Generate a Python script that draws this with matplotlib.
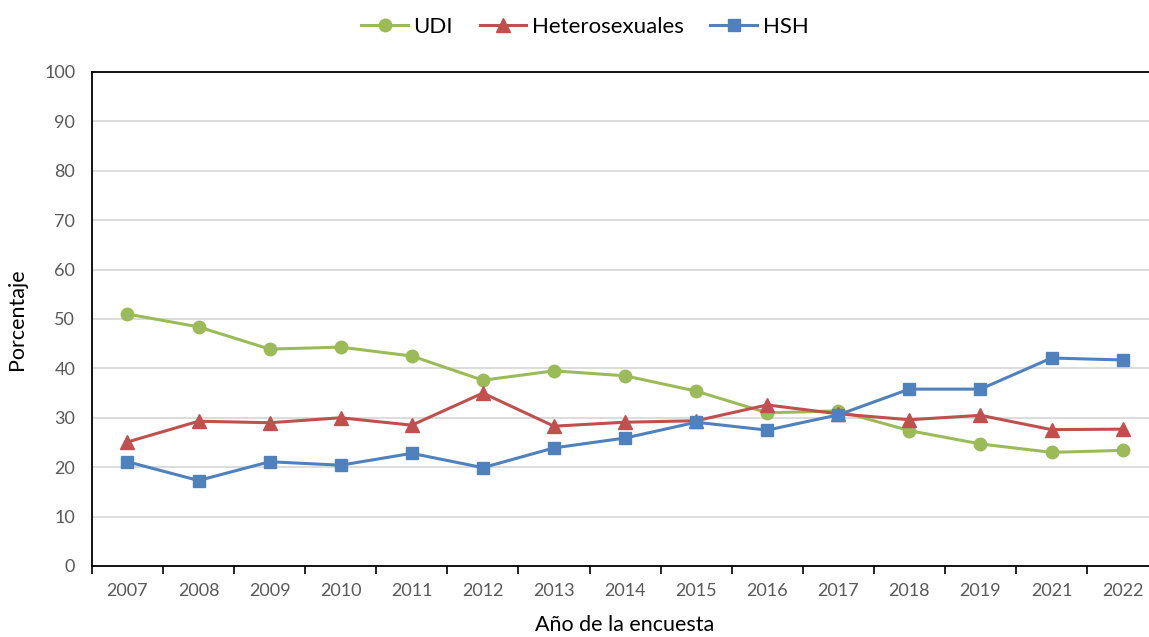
import matplotlib
matplotlib.use("Agg")
import matplotlib.pyplot as plt
import numpy as np

plt.rcParams['font.family'] = ['Lato', 'DejaVu Sans']

# Data
years = ['2007', '2008', '2009', '2010', '2011', '2012', '2013', '2014',
         '2015', '2016', '2017', '2018', '2019', '2021', '2022']
udi = [51.0, 48.4, 43.9, 44.3, 42.5, 37.6, 39.5, 38.5, 35.4, 31.0, 31.4, 27.4, 24.7, 23.0, 23.4]
hetero = [25.1, 29.3, 29.0, 30.0, 28.5, 35.0, 28.3, 29.1, 29.4, 32.6, 30.8, 29.6, 30.5, 27.6, 27.7]
hsh = [21.1, 17.3, 21.1, 20.4, 22.8, 19.9, 23.9, 25.9, 29.1, 27.5, 30.6, 35.8, 35.8, 42.1, 41.7]

green = '#9BBB59'
red = '#C0504D'
blue = '#4F81BD'

fig = plt.figure(figsize=(11.49, 6.37), dpi=100)
# plot area runs past the right edge of the image, as in the reference
ax = fig.add_axes([0.080, 0.1115, 0.928, 0.7755])

x = np.arange(len(years))
ax.plot(x, udi, color=green, lw=2.2, marker='o', ms=9, label='UDI')
ax.plot(x, hetero, color=red, lw=2.2, marker='^', ms=9.5, label='Heterosexuales')
ax.plot(x, hsh, color=blue, lw=2.2, marker='s', ms=9, label='HSH')

# Axes and grid
ax.set_ylim(0, 100)
ax.set_xlim(-0.5, len(years) - 0.5)
ax.set_yticks(np.arange(0, 101, 10))
ax.yaxis.grid(True, color='#D9D9D9', lw=1.3)
ax.set_axisbelow(True)
ax.tick_params(axis='y', length=0, pad=12, labelsize=13, labelcolor='#595959')

ax.set_xticks(x)
ax.set_xticklabels(years)
ax.set_xticks(np.arange(-0.5, len(years), 1), minor=True)
ax.tick_params(axis='x', which='major', length=0, pad=12, labelsize=13, labelcolor='#595959')
ax.tick_params(axis='x', which='minor', length=6, width=1.2, color='black')

ax.spines['right'].set_visible(False)
for s in ['left', 'bottom', 'top']:
    ax.spines[s].set_color('black')
    ax.spines[s].set_linewidth(1.3)

ax.set_ylabel('Porcentaje', fontsize=15.5, labelpad=12)
ax.set_xlabel('Año de la encuesta', fontsize=15.5, labelpad=12)

fig.legend(loc='upper center', bbox_to_anchor=(0.509, 1.005), ncol=3, frameon=False,
           fontsize=16, handlelength=2.1, columnspacing=1.2, handletextpad=0.25)

fig.savefig('out.png', dpi=100)
